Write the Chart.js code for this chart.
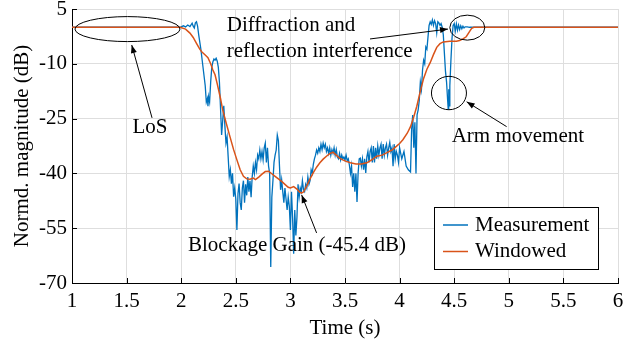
<!DOCTYPE html>
<html>
<head>
<meta charset="utf-8">
<script src="https://cdn.jsdelivr.net/npm/chart.js@4.4.0/dist/chart.umd.min.js"></script>
<style>
  html, body { margin: 0; padding: 0; background: #fff; }
  #wrap { width: 641px; height: 343px; }
</style>
</head>
<body>
<div id="wrap"><canvas id="chart" width="641" height="343"></canvas></div>
<script>
// ---- data ----
const xTicks = [1, 1.5, 2, 2.5, 3, 3.5, 4, 4.5, 5, 5.5, 6];
const yTicks = [-70, -55, -40, -25, -10, 5];

const measTime = [
  1.00, 1.98, 2.00, 2.02, 2.04, 2.06, 2.08, 2.10, 2.11, 2.12, 2.13, 2.14, 2.15, 2.16, 2.18, 2.20,
  2.22, 2.23, 2.24, 2.245, 2.25, 2.26, 2.27, 2.28, 2.29, 2.30, 2.31, 2.32, 2.33, 2.34, 2.35, 2.36,
  2.37, 2.38, 2.39, 2.40, 2.41, 2.42, 2.43, 2.44, 2.45, 2.46, 2.47, 2.48, 2.49, 2.50, 2.51, 2.52,
  2.53, 2.54, 2.55, 2.56, 2.57, 2.58, 2.59, 2.60, 2.61, 2.62, 2.63, 2.64, 2.65, 2.66, 2.67, 2.68,
  2.69, 2.70, 2.71, 2.72, 2.73, 2.74, 2.75, 2.76, 2.77, 2.78, 2.79, 2.80, 2.81, 2.82, 2.83, 2.84,
  2.85, 2.86, 2.87, 2.88, 2.89, 2.90, 2.91, 2.92, 2.93, 2.94, 2.95, 2.96, 2.97, 2.98, 2.99, 3.00,
  3.01, 3.02, 3.03, 3.04, 3.05, 3.06, 3.07, 3.08, 3.09, 3.10, 3.11, 3.12, 3.13, 3.14, 3.15, 3.16,
  3.17, 3.18, 3.19, 3.20, 3.21, 3.22, 3.23, 3.24, 3.25, 3.26, 3.27, 3.28, 3.29, 3.30, 3.31, 3.32,
  3.33, 3.34, 3.35, 3.36, 3.37, 3.38, 3.39, 3.40, 3.41, 3.42, 3.43, 3.44, 3.45, 3.46, 3.47, 3.48,
  3.49, 3.50, 3.51, 3.52, 3.53, 3.54, 3.55, 3.56, 3.57, 3.58, 3.59, 3.60, 3.61, 3.62, 3.63, 3.64,
  3.65, 3.66, 3.67, 3.68, 3.69, 3.70, 3.71, 3.72, 3.73, 3.74, 3.75, 3.76, 3.77, 3.78, 3.79, 3.80,
  3.81, 3.82, 3.83, 3.84, 3.85, 3.86, 3.87, 3.88, 3.89, 3.90, 3.91, 3.92, 3.93, 3.94, 3.95, 3.96,
  3.97, 3.98, 3.99, 4.00, 4.02, 4.04, 4.06, 4.08, 4.10, 4.11, 4.12, 4.13, 4.14, 4.15, 4.16, 4.17,
  4.18, 4.19, 4.20, 4.21, 4.22, 4.23, 4.24, 4.25, 4.26, 4.27, 4.28, 4.29, 4.30, 4.31, 4.32, 4.33,
  4.34, 4.35, 4.36, 4.37, 4.38, 4.39, 4.40, 4.41, 4.42, 4.43, 4.44, 4.445, 4.45, 4.455, 4.46, 4.47,
  4.48, 4.49, 4.50, 4.51, 4.52, 4.53, 4.54, 4.55, 4.56, 4.57, 4.58, 4.59, 4.60, 4.62, 4.64, 4.66,
  6.00
];
const measDb = [
  0, 0, 0.1, 0.4, 0.1, 0.6, 0.2, 1.1, 0.3, -0.2, 1.2, 1.5, 0.3, -2, -6, -11,
  -16, -20.5, -19.5, -21.6, -19, -20.5, -15, -11, -9.5, -8.7, -9, -8.5, -9.3, -11, -15, -22,
  -29.5, -25.5, -21.5, -27, -31.7, -30, -35.4, -40.9, -39, -42.8, -40, -46.4, -44, -47, -55.5, -45.5,
  -42.8, -48, -50, -44, -42, -48, -43, -46, -41, -45, -42, -46.5, -41, -38, -40, -37,
  -39, -35, -36, -33.6, -36, -34, -36.3, -33, -31.7, -37, -33, -38, -40, -65.6, -46.5, -42,
  -37, -35, -33.6, -29.5, -31, -38, -44.5, -41.8, -45, -48, -44, -47, -50, -46.5, -49, -55.5,
  -45, -52, -62, -50, -57, -52, -43, -46.5, -44, -45, -42, -44.5, -45, -43, -44, -41,
  -43, -42, -39, -40, -37.5, -36, -35, -33.6, -34.5, -33, -34, -32, -33.5, -31.7, -33, -32,
  -34, -33, -34.5, -33, -35, -33.5, -34.5, -33, -35, -33.5, -35.5, -36, -34.5, -36.3, -35, -36,
  -35.5, -36.3, -35, -36.5, -36, -37.7, -40, -38, -43.7, -40, -45, -40, -47.8, -40, -36, -35.8,
  -38, -36, -39, -36, -39.9, -35.5, -34, -37, -34, -33, -37, -32.5, -37, -33, -36, -32.5,
  -35, -33, -32, -36, -32, -35, -33, -32, -35, -33, -31.5, -34, -33, -38, -32, -36,
  -34, -35, -37, -33, -36, -34, -38, -39, -39.6, -28, -24, -33, -26, -40, -24, -22.6,
  -20, -15, -17, -11.7, -9, -10, -5.4, -6, -2.7, 0.5, 1.5, 0.8, 2.0, 0.5, 1.8, 1.0,
  -1.5, 1.5, 1.2, 0.5, 1.0, 0, -2, -7, -12, -15, -20, -22.3, -17, -21.5, -16, -9,
  -3, 0.5, 1.0, -1.0, 0.9, -0.8, 0.6, -0.6, 0.4, -0.4, 0.3, -0.2, 0.1, 0.1, 0, 0,
  0
];

const winTime = [
  1.00, 1.99, 2.04, 2.08, 2.11, 2.14, 2.17, 2.19, 2.22, 2.245, 2.27, 2.29, 2.31, 2.33, 2.36, 2.38,
  2.41, 2.447, 2.48, 2.51, 2.54, 2.57, 2.60, 2.63, 2.66, 2.68, 2.71, 2.74, 2.77, 2.80, 2.83, 2.86,
  2.89, 2.92, 2.95, 2.98, 3.00, 3.03, 3.06, 3.08, 3.10, 3.12, 3.15, 3.18, 3.21, 3.24, 3.27, 3.30,
  3.33, 3.36, 3.39, 3.42, 3.45, 3.48, 3.51, 3.55, 3.60, 3.65, 3.70, 3.75, 3.79, 3.84, 3.88, 3.93,
  3.97, 4.00, 4.03, 4.07, 4.10, 4.13, 4.157, 4.19, 4.22, 4.25, 4.28, 4.31, 4.34, 4.37, 4.40, 4.46,
  4.52, 4.55, 4.58, 4.61, 4.64, 4.66, 4.68, 6.00
];
const winDb = [
  0, 0, -0.5, -1.6, -2.8, -4.4, -6, -6.8, -7.6, -8.3, -10, -11.7, -13, -15.5, -19.5, -22.6,
  -26, -30, -33.5, -36.3, -39, -40.8, -41.5, -41.6, -41.3, -41.7, -41, -40.2, -39.5, -39.4, -40.1, -40.8,
  -41.5, -42.2, -43, -43.8, -44, -43.6, -44.3, -45, -45.4, -45.1, -43.4, -41.5, -39.8, -38.3, -37.1, -36.1,
  -35.3, -34.6, -34.2, -35, -35.8, -36.3, -36.7, -37.1, -37.4, -37.4, -37.1, -36.2, -35.3, -35, -34.4, -33.6,
  -32.6, -31.8, -30.8, -29, -27.2, -24.5, -21.7, -17.5, -14, -11.5, -9.7, -7.5, -5.5, -4.5, -4, -3.8,
  -3.8, -3.6, -3.2, -2.6, -1.2, -0.3, 0, 0
];

// annotations in data units (time, dB); ellipse radii in px
const ellipses = [
  { x: 1.508, y: -0.5, rx: 52.5, ry: 12.5 },
  { x: 4.62, y: -0.1, rx: 17.5, ry: 12.5 },
  { x: 4.452, y: -18, rx: 17.5, ry: 16.7 }
];
const arrows = [
  { from: [1.733, -24.8], to: [1.547, -4.85] },
  { from: [3.729, -3.2], to: [4.443, -0.5] },
  { from: [4.98, -27.2], to: [4.614, -20.4] },
  { from: [3.24, -56.3], to: [3.103, -45.9] }
];
const notes = [
  { text: "LoS", x: 1.714, y: -27.3, align: "center" },
  { text: "Diffraction and", x: 2.417, y: 0.6, align: "left" },
  { text: "reflection interference", x: 2.417, y: -6.5, align: "left" },
  { text: "Arm movement", x: 4.477, y: -30, align: "left" },
  { text: "Blockage Gain (-45.4 dB)", x: 2.062, y: -59.6, align: "left" }
];

const FONT = '"Liberation Serif", "Times New Roman", serif';
const BLUE = "#0072BD";
const ORANGE = "#D95319";

function toPoints(xs, ys) {
  return xs.map((x, i) => ({ x: x, y: ys[i] }));
}

function drawArrowHead(ctx, x1, y1, x2, y2) {
  const ang = Math.atan2(y2 - y1, x2 - x1);
  const len = 8, w = 3;
  ctx.beginPath();
  ctx.moveTo(x2, y2);
  ctx.lineTo(x2 - len * Math.cos(ang) + w * Math.sin(ang), y2 - len * Math.sin(ang) - w * Math.cos(ang));
  ctx.lineTo(x2 - len * Math.cos(ang) - w * Math.sin(ang), y2 - len * Math.sin(ang) + w * Math.cos(ang));
  ctx.closePath();
  ctx.fill();
}

// ticks pointing inward, annotations and the legend box
const decorPlugin = {
  id: "decor",
  afterDraw(chart) {
    const ctx = chart.ctx;
    const xs = chart.scales.x, ys = chart.scales.y;
    const area = chart.chartArea;
    ctx.save();
    ctx.strokeStyle = "#000";
    ctx.fillStyle = "#000";
    ctx.lineWidth = 1;

    // inward tick marks
    ctx.beginPath();
    xTicks.forEach(v => {
      const px = Math.round(xs.getPixelForValue(v)) + 0.5;
      ctx.moveTo(px, area.bottom);
      ctx.lineTo(px, area.bottom - 5);
    });
    yTicks.forEach(v => {
      const py = Math.round(ys.getPixelForValue(v)) + 0.5;
      ctx.moveTo(area.left, py);
      ctx.lineTo(area.left + 5, py);
    });
    ctx.stroke();

    // ellipses
    ellipses.forEach(e => {
      ctx.beginPath();
      ctx.ellipse(xs.getPixelForValue(e.x), ys.getPixelForValue(e.y), e.rx, e.ry, 0, 0, Math.PI * 2);
      ctx.stroke();
    });

    // arrows
    arrows.forEach(a => {
      const x1 = xs.getPixelForValue(a.from[0]), y1 = ys.getPixelForValue(a.from[1]);
      const x2 = xs.getPixelForValue(a.to[0]), y2 = ys.getPixelForValue(a.to[1]);
      ctx.beginPath();
      ctx.moveTo(x1, y1);
      ctx.lineTo(x2, y2);
      ctx.stroke();
      drawArrowHead(ctx, x1, y1, x2, y2);
    });

    // text notes
    ctx.font = "21px " + FONT;
    ctx.textBaseline = "middle";
    notes.forEach(n => {
      ctx.textAlign = n.align;
      ctx.fillText(n.text, xs.getPixelForValue(n.x), ys.getPixelForValue(n.y));
    });

    // legend box (bottom right inside the axes)
    const bw = 164, bh = 62;
    const bx = area.right - 20 - bw, by = area.bottom - 14 - bh;
    ctx.fillStyle = "#fff";
    ctx.fillRect(bx, by, bw, bh);
    ctx.strokeRect(Math.round(bx) + 0.5, Math.round(by) + 0.5, bw, bh);
    ctx.textAlign = "left";
    chart.data.datasets.slice().sort((a, b) => a.legendIndex - b.legendIndex).forEach((ds, i) => {
      const cy = by + 18 + i * 26.5;
      ctx.strokeStyle = ds.borderColor;
      ctx.lineWidth = 1.5;
      ctx.beginPath();
      ctx.moveTo(bx + 9, cy);
      ctx.lineTo(bx + 34, cy);
      ctx.stroke();
      ctx.fillStyle = "#000";
      ctx.fillText(ds.label, bx + 41, cy);
    });
    ctx.restore();
  }
};

new Chart(document.getElementById("chart"), {
  type: "line",
  data: {
    datasets: [
      {
        label: "Windowed",
        legendIndex: 1,
        data: toPoints(winTime, winDb),
        borderColor: ORANGE,
        borderWidth: 1.5,
        pointRadius: 0,
        tension: 0
      },
      {
        label: "Measurement",
        legendIndex: 0,
        data: toPoints(measTime, measDb),
        borderColor: BLUE,
        borderWidth: 1.3,
        pointRadius: 0,
        tension: 0
      }
    ]
  },
  options: {
    responsive: false,
    animation: false,
    layout: { padding: { left: 0, top: 9, right: 23, bottom: 0 } },
    plugins: {
      legend: { display: false },
      tooltip: { enabled: false }
    },
    scales: {
      x: {
        type: "linear",
        min: 1,
        max: 6,
        afterBuildTicks: s => { s.ticks = xTicks.map(v => ({ value: v })); },
        afterFit: s => { s.height = 60; s.paddingLeft = 0; s.paddingRight = 0; },
        grid: { color: "#dedede", drawTicks: false },
        border: { color: "#000", width: 1 },
        ticks: {
          color: "#000",
          padding: 6,
          font: { family: FONT, size: 21 },
          callback: v => String(v)
        },
        title: {
          display: true,
          text: "Time (s)",
          color: "#000",
          font: { family: FONT, size: 21 },
          padding: { top: 0, bottom: 2 }
        }
      },
      y: {
        type: "linear",
        min: -70,
        max: 5,
        afterBuildTicks: s => { s.ticks = yTicks.map(v => ({ value: v })); },
        afterFit: s => { s.width = 72; s.paddingTop = 0; s.paddingBottom = 0; },
        grid: { color: "#dedede", drawTicks: false },
        border: { color: "#000", width: 1 },
        ticks: {
          color: "#000",
          padding: 5,
          font: { family: FONT, size: 21 },
          callback: v => String(v)
        },
        title: {
          display: true,
          text: "Normd. magnitude (dB)",
          color: "#000",
          font: { family: FONT, size: 21 },
          padding: { top: 10, bottom: 0 }
        }
      }
    }
  },
  plugins: [decorPlugin]
});
</script>
</body>
</html>
